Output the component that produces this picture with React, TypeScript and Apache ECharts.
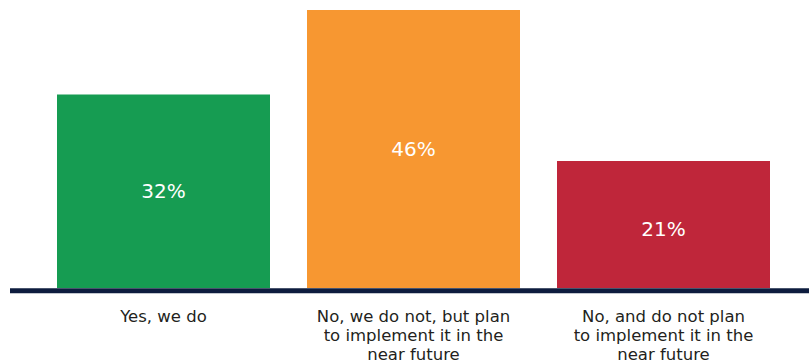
import React, { useEffect, useRef } from "react";
import * as echarts from "echarts";

const categories = [
  "Yes, we do",
  "No, we do not, but plan\nto implement it in the\nnear future",
  "No, and do not plan\nto implement it in the\nnear future",
];
const values = [32, 46, 21];
const barColors = ["#169c52", "#f79731", "#bf263a"];
const labelOffsets = [0, 0, 4];

export default function App() {
  const ref = useRef<HTMLDivElement>(null);
  useEffect(() => {
    if (!ref.current) return;
    const chart = echarts.init(ref.current, undefined, { renderer: "svg" });
    chart.setOption({
      animation: false,
      grid: {
        left: 38.5,
        right: 20.5,
        top: 10,
        bottom: 75,
        containLabel: false,
        outerBoundsMode: "none",
      },
      xAxis: {
        type: "category",
        data: categories,
        axisLine: { show: false },
        axisTick: { show: false },
        axisLabel: {
          interval: 0,
          margin: 18.5,
          color: "#231f20",
          fontFamily: "DejaVu Sans",
          fontSize: 16.5,
          lineHeight: 19,
        },
      },
      yAxis: {
        type: "value",
        min: 0,
        max: 46,
        show: false,
        splitLine: { show: false },
      },
      series: [
        {
          type: "bar",
          barWidth: 213,
          data: values.map((v, i) => ({
            value: v,
            itemStyle: { color: barColors[i] },
            label: { offset: [0, labelOffsets[i]] },
          })),
          label: {
            show: true,
            position: "inside",
            color: "#ffffff",
            fontFamily: "DejaVu Sans",
            fontSize: 20,
            formatter: "{c}%",
          },
        },
      ],
      graphic: [
        {
          type: "rect",
          shape: { x: 10, y: 288.3, width: 799, height: 5 },
          style: { fill: "#0d1c3e" },
          z: 10,
        },
      ],
    });
    return () => chart.dispose();
  }, []);
  return (
    <div
      ref={ref}
      style={{ position: "absolute", left: 0, top: 0, width: 809, height: 363 }}
    />
  );
}
